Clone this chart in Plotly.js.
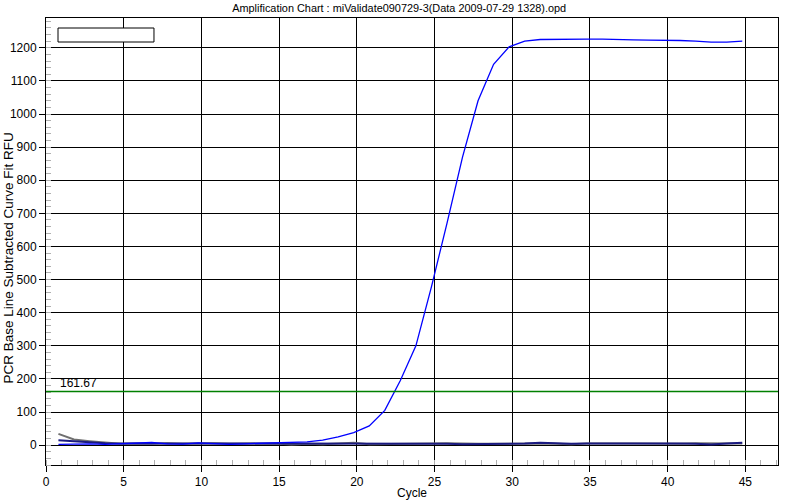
<!DOCTYPE html>
<html>
<head>
<meta charset="utf-8">
<script src="https://cdn.plot.ly/plotly-3.0.1.min.js"></script>
<style>html,body{margin:0;padding:0;background:#fff;}#chart{width:800px;height:500px;}</style>
</head>
<body>
<div id="chart"></div>
<script>
// Cycle positions as plotted
const cycles = [0.8,1.8,2.8,3.8,4.8,5.8,6.8,7.8,8.8,9.8,10.8,11.8,12.8,13.8,14.8,15.8,16.8,17.8,18.8,19.8,20.8,21.8,22.8,23.8,24.8,25.8,26.8,27.8,28.8,29.8,30.8,31.8,32.8,33.8,34.8,35.8,36.8,37.8,38.8,39.8,40.8,41.8,42.8,43.8,44.8];
// Amplified well (blue)
const wellA = [2,3,4,2,4,7,8,4,3,7,5,2,4,5,7,8,10,15,25,38,58,105,195,300,478,670,870,1040,1150,1203,1220,1225,1226,1226,1226,1226,1226,1224,1223,1223,1222,1220,1217,1217,1220];
// Non-amplified wells
const wellB = [15,12,8,6,5,5,6,6,5,4,6,5,4,4,5,5,5,5,4,6,5,4,4,5,5,4,3,3,3,4,5,7,5,4,5,5,6,7,5,5,5,4,2,5,7];
const wellC = [34,17,12,8,4,5,4,6,4,5,6,4,4,3,5,2,4,3,4,7,3,3,4,5,5,6,4,4,4,5,5,5,4,3,5,6,5,5,4,5,4,6,5,4,5];
const threshold = 161.67;
const chartTitle = "Amplification Chart : miValidate090729-3(Data 2009-07-29 1328).opd";
const xTitle = "Cycle";
const yTitle = "PCR Base Line Subtracted Curve Fit RFU";

const fam = "Liberation Sans, Arial, sans-serif";
const font = {family: fam, size: 12, color: "#000"};

const traces = [
  {x: cycles, y: wellC, mode: "lines", line: {color: "#707070", width: 2}, showlegend: false, hoverinfo: "skip"},
  {x: cycles, y: wellB, mode: "lines", line: {color: "#1a1a80", width: 2}, showlegend: false, hoverinfo: "skip"},
  {x: cycles, y: wellA, mode: "lines", line: {color: "#0000ff", width: 1.3}, showlegend: false, hoverinfo: "skip"}
];

const layout = {
  width: 800, height: 500,
  margin: {l: 46, r: 22, t: 18, b: 35},
  paper_bgcolor: "#fff", plot_bgcolor: "#fff",
  font: font,
  title: {text: chartTitle, font: {family: fam, size: 10.9, color: "#000"}, x: 0.499, xref: "container", xanchor: "center", y: 0.984, yref: "container", yanchor: "middle"},
  xaxis: {
    range: [0, 47.1], tick0: 0, dtick: 5, ticks: "outside", ticklen: 6, tickcolor: "#000",
    showgrid: true, gridcolor: "#000", gridwidth: 1, zeroline: false,
    showline: true, linecolor: "#000", linewidth: 1, mirror: true,
    tickfont: font,
    minor: {dtick: 1, ticks: "inside", ticklen: 5, tickcolor: "#b0b0b0", showgrid: false},
    title: {text: xTitle, font: font, standoff: 2}
  },
  yaxis: {
    range: [-60, 1290], tick0: 0, dtick: 100, ticks: "outside", ticklen: 6, tickcolor: "#000",
    showgrid: true, gridcolor: "#000", gridwidth: 1, zeroline: true, zerolinecolor: "#000", zerolinewidth: 1,
    showline: true, linecolor: "#000", linewidth: 1, mirror: true,
    tickfont: font,
    minor: {dtick: 20, ticks: "inside", ticklen: 5, tickcolor: "#b0b0b0", showgrid: false}
  },
  shapes: [
    {type: "line", xref: "paper", x0: 0, x1: 1, yref: "y", y0: threshold, y1: threshold, line: {color: "#008000", width: 1.5}},
    {type: "rect", xref: "paper", yref: "paper", x0: 0.0164, x1: 0.1475, y0: 0.9463, y1: 0.9776, line: {color: "#000", width: 1}, fillcolor: "#fff"}
  ],
  annotations: [
    {x: 0.75, y: threshold, xref: "x", yref: "y", xanchor: "left", yanchor: "bottom", text: threshold.toFixed(2), showarrow: false, font: font},
    {x: -0.0519, y: 0.462, xref: "paper", yref: "paper", xanchor: "center", yanchor: "middle", textangle: -90, text: yTitle, showarrow: false, font: {family: fam, size: 13.5, color: "#000"}}
  ]
};

Plotly.newPlot("chart", traces, layout, {displayModeBar: false, staticPlot: true});
</script>
</body>
</html>
